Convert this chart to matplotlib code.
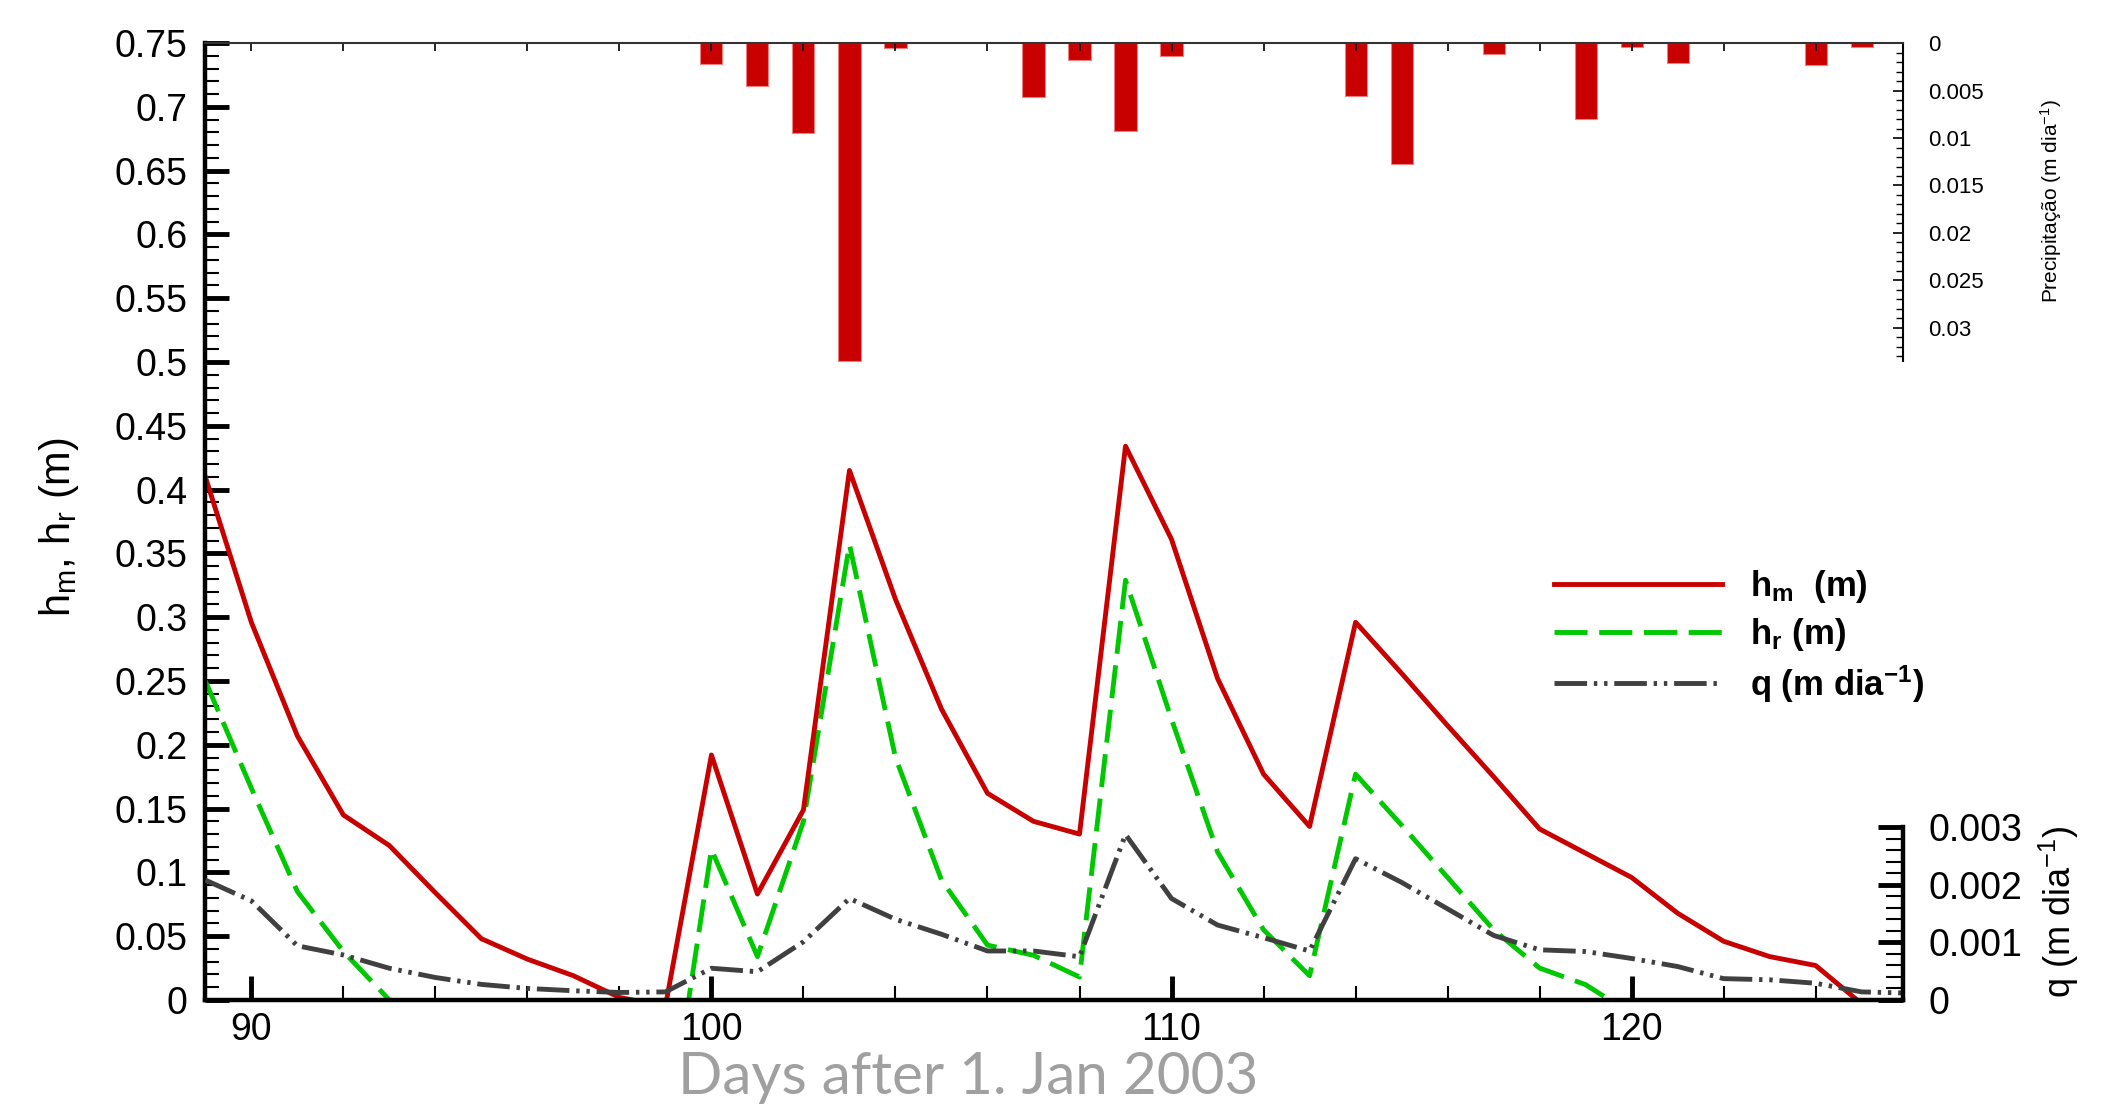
import numpy as np
import matplotlib
matplotlib.use('Agg')
import matplotlib.pyplot as plt
from matplotlib.ticker import MultipleLocator, FixedLocator, FuncFormatter

plt.rcParams['font.family'] = ['Liberation Sans', 'DejaVu Sans']
plt.rcParams['mathtext.default'] = 'regular'

# daily series, day of year 89..126
days = np.arange(89, 127)
hm = [0.41, 0.296, 0.207, 0.145, 0.121, 0.084, 0.048, 0.032, 0.019, 0.002,
      -0.005, 0.192, 0.083, 0.149, 0.415, 0.314, 0.228, 0.162, 0.14, 0.13,
      0.434, 0.361, 0.252, 0.177, 0.136, 0.296, 0.256, 0.215, 0.175, 0.134,
      0.115, 0.096, 0.068, 0.046, 0.034, 0.027, -0.003, np.nan]
hr = [0.25, 0.166, 0.085, 0.038, 0.0, np.nan, np.nan, np.nan, np.nan, np.nan,
      -0.12, 0.118, 0.034, 0.14, 0.357, 0.19, 0.094, 0.043, 0.035, 0.018,
      0.329, 0.22, 0.116, 0.055, 0.019, 0.177, 0.137, 0.096, 0.055, 0.025,
      0.012, -0.011, np.nan, np.nan, np.nan, np.nan, np.nan, np.nan]
q = [0.00208, 0.00172, 0.00094, 0.00078, 0.00055, 0.00039, 0.00027, 0.0002, 0.00016, 0.00013,
     0.00014, 0.00055, 0.00049, 0.00101, 0.00176, 0.0014, 0.00114, 0.00085, 0.00085, 0.00075,
     0.00287, 0.00176, 0.0013, 0.00108, 0.00085, 0.00245, 0.00204, 0.00158, 0.00112, 0.00087,
     0.00084, 0.00072, 0.00058, 0.00037, 0.00035, 0.00029, 0.00014, 0.00012]

# precipitation (m/dia)
precip_days = [100, 101, 102, 103, 104, 107, 108, 109, 110, 114, 115, 117, 119, 120, 121, 124, 125]
precip = [0.0022, 0.0045, 0.0095, 0.0335, 0.0005, 0.0057, 0.00175, 0.0093, 0.0013,
          0.0056, 0.0127, 0.0011, 0.008, 0.00035, 0.0021, 0.0023, 0.00035]

red = '#C80000'
green = '#00C800'
gray = '#404040'
fmt = FuncFormatter(lambda v, p: '%g' % round(v, 6))

fig = plt.figure(figsize=(21.19, 11.08), dpi=100)
ax = fig.add_axes([0.0969, 0.0975, 0.8012, 0.8637])
ax_q = ax.twinx()
ax_p = fig.add_axes([0.0969, 0.961 - 0.2953, 0.8012, 0.2953])

# main axis: h_m, h_r
l_hm, = ax.plot(days, hm, color=red, lw=3.5, zorder=3)
l_hr, = ax.plot(days, hr, color=green, lw=3.5, dashes=(6.8, 2.4), zorder=2)
ax.set_xlim(89, 125.9)
ax.set_ylim(0, 0.75)
for s in ['top', 'right']:
    ax.spines[s].set_visible(False)
for s in ['left', 'bottom']:
    ax.spines[s].set_linewidth(3.2)
    ax.spines[s].set_zorder(5)
ax.xaxis.set_major_locator(FixedLocator([90, 100, 110, 120]))
ax.xaxis.set_minor_locator(MultipleLocator(2))
ax.yaxis.set_major_locator(MultipleLocator(0.05))
ax.yaxis.set_minor_locator(MultipleLocator(0.01))
ax.yaxis.set_major_formatter(fmt)
ax.tick_params(which='major', direction='in', length=17, width=3.5, labelsize=27)
ax.tick_params(which='minor', direction='in', length=10, width=1.5)
ax.tick_params(axis='y', which='major', pad=13)
ax.tick_params(axis='x', which='major', pad=9)
ax.set_ylabel(r'$h_m$, $h_r$ (m)', fontsize=30)
ax.yaxis.set_label_coords(-0.073, 0.494)

# q on right, lower part
l_q, = ax_q.plot(days, q, color=gray, lw=3.5, dashes=(6.7, 1.4, 0.7, 1.4, 0.7, 1.4), zorder=2)
ax_q.set_ylim(0, 0.0166)
for s in ['top', 'left', 'bottom']:
    ax_q.spines[s].set_visible(False)
ax_q.spines['right'].set_bounds(0, 0.003)
ax_q.spines['right'].set_linewidth(3.2)
ax_q.yaxis.set_major_locator(FixedLocator([0, 0.001, 0.002, 0.003]))
ax_q.yaxis.set_minor_locator(FixedLocator(np.arange(0.0002, 0.003, 0.0002)))
ax_q.yaxis.set_major_formatter(fmt)
ax_q.tick_params(which='major', direction='in', length=18, width=3.5, labelsize=27, pad=18)
ax_q.tick_params(which='minor', direction='in', length=12, width=1.5)
ax_q.set_ylabel(r'q (m dia$^{-1}$)', fontsize=26)
ax_q.yaxis.set_label_coords(1.079, 0.092)

# precipitation bars hanging from the top
ax_p.bar(precip_days, precip, width=0.48, color=red, edgecolor='#F08080', linewidth=0.8)
ax_p.set_xlim(89, 125.9)
ax_p.set_ylim(0.0345, 0)
ax_p.patch.set_visible(False)
for s in ['left', 'bottom']:
    ax_p.spines[s].set_visible(False)
ax_p.spines['top'].set_linewidth(1.5)
ax_p.spines['top'].set_color('#333333')
ax_p.spines['right'].set_linewidth(1.5)
ax_p.spines['right'].set_bounds(0, 0.0335)
ax_p.yaxis.tick_right()
ax_p.yaxis.set_label_position('right')
ax_p.yaxis.set_major_locator(FixedLocator([0, 0.005, 0.01, 0.015, 0.02, 0.025, 0.03]))
ax_p.yaxis.set_minor_locator(FixedLocator(np.arange(0.001, 0.0335, 0.001)))
ax_p.yaxis.set_major_formatter(fmt)
ax_p.tick_params(axis='y', which='major', direction='in', length=7, width=1.2, labelsize=16, pad=18)
ax_p.tick_params(axis='y', which='minor', direction='in', length=5, width=1.0)
ax_p.xaxis.set_major_locator(MultipleLocator(2))
ax_p.tick_params(axis='x', which='both', bottom=False, labelbottom=False, top=True, labeltop=False,
                 direction='in', length=6, width=1.2)
ax_p.set_ylabel(r'Precipitação (m dia$^{-1}$)', fontsize=15)
ax_p.yaxis.set_label_coords(1.0795, 0.518)

ax_q.legend([l_hm, l_hr, l_q], [r'$h_m$  (m)', r'$h_r$ (m)', r'q (m dia$^{-1}$)'],
            loc='upper left', bbox_to_anchor=(0.7334, 0.487), bbox_transform=fig.transFigure,
            frameon=False, prop={'weight': 'bold', 'size': 25}, handlelength=4.85,
            handletextpad=0.8, labelspacing=0.3, borderpad=0, borderaxespad=0)

fig.text(0.457, 0.0125, 'Days after 1. Jan 2003', ha='center', va='baseline',
         fontsize=42, color='#A0A0A0', family=['Lato', 'DejaVu Sans'])

fig.savefig('out.png', dpi=100)
